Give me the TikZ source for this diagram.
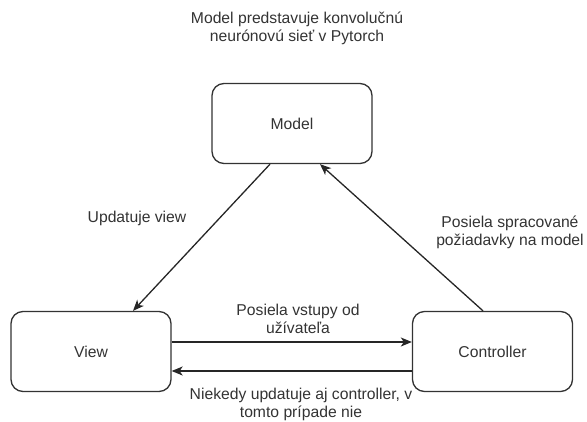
\documentclass[tikz,border=0pt]{standalone}
\usepackage{fontspec}
\setmainfont{Liberation Sans}
\usetikzlibrary{arrows.meta}
\tikzstyle{box}=[draw=black!80,line width=1.3pt,rounded corners=12pt,minimum width=160pt,minimum height=80pt,inner sep=0pt,text=black!80]
\tikzstyle{lbl}=[align=center,inner sep=0pt,text=black!80]
\tikzstyle{arr}=[draw=black!85,line width=1.3pt,-{Stealth[length=11pt,width=9pt,inset=3pt]}]

\begin{document}
\begin{tikzpicture}[x=1pt,y=-1pt,font=\fontsize{15.7}{18}\selectfont]
    \useasboundingbox (0,0) rectangle (587,421);
    \node[box] (model) at (292,123.5) {Model};
    \node[box] (view) at (91,351.5) {View};
    \node[box] (ctrl) at (492.5,351.5) {Controller};

    \node[lbl] (title) at (297,28) {Model predstavuje konvolučnú\\neurónovú sieť v Pytorch};
    \node[lbl] (lupd) at (137,218) {Updatuje view};
    \node[lbl] (lreq) at (510,232.5) {Posiela spracované\\požiadavky na model};
    \node[lbl] (linp) at (298,318.5) {Posiela vstupy od\\užívateľa};
    \node[lbl] (lback) at (301,404.5) {Niekedy updatuje aj controller, v\\tomto prípade nie};

    \coordinate (m1) at ([xshift=-22pt]model.south);
    \coordinate (m2) at ([xshift=28pt]model.south);
    \coordinate (v1) at ([xshift=42pt]view.north);
    \coordinate (v2) at ([yshift=9.5pt]view.east);
    \coordinate (v3) at ([yshift=-19.5pt]view.east);
    \coordinate (c1) at ([xshift=-9.5pt]ctrl.north);
    \coordinate (c2) at ([yshift=9.5pt]ctrl.west);
    \coordinate (c3) at ([yshift=-19.5pt]ctrl.west);

    \foreach \from/\to in {m1/v1,c1/m2,v2/c2,c3/v3}
    \draw[arr] (\from) -- (\to);
\end{tikzpicture}
\end{document}
